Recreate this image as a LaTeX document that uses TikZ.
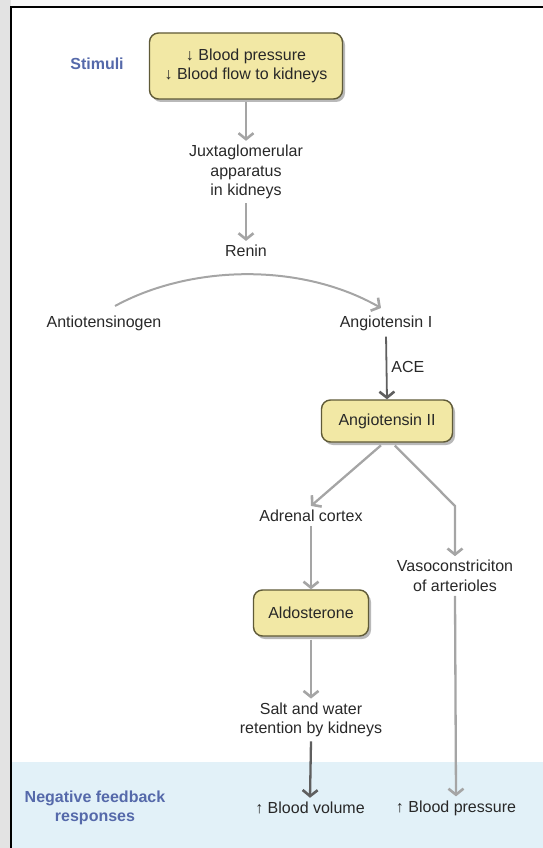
\documentclass[tikz,border=0pt]{standalone}
\usepackage{fontspec}
\setmainfont{Liberation Sans}
\usetikzlibrary{arrows.meta,shadows}
\definecolor{boxfill}{RGB}{242,232,165}
\definecolor{boxline}{RGB}{95,90,55}
\definecolor{textgray}{RGB}{40,40,40}
\definecolor{labelblue}{RGB}{85,105,170}
\definecolor{arrowgray}{RGB}{165,165,165}
\definecolor{darkarrow}{RGB}{95,95,95}
\definecolor{bandblue}{RGB}{226,241,248}
\tikzset{font={\fontsize{16pt}{19.5pt}\selectfont}}
\tikzset{
  stage/.style={text=textgray, align=center, inner sep=4pt},
  hormone/.style={draw=boxline, line width=1.4pt, fill=boxfill, rounded corners=9pt,
    text=textgray, align=center, drop shadow={shadow xshift=2.5pt, shadow yshift=-3pt, fill=black!55}},
  sidelabel/.style={text=labelblue, font={\fontsize{16pt}{19.5pt}\selectfont\bfseries}, align=center},
  flow/.style={draw=arrowgray, line width=2.3pt, -{Straight Barb[length=6pt,width=15pt,line width=2.6pt]}},
  darkflow/.style={flow, draw=darkarrow}
}
\begin{document}
\begin{tikzpicture}[x=1pt,y=-1pt]
      \useasboundingbox (0,0) rectangle (543,848);
      %background and frame
      \fill[gray!22] (0,0) rectangle (11,848);
      \fill[gray!6] (11,0) rectangle (543,7);
      \fill[bandblue] (12,762) rectangle (543,848);
      \draw[line width=2pt] (11,848) -- (11,7) -- (543,7);
      %side labels
      \node[sidelabel] (stimuli) at (97,64) {Stimuli};
      \node[sidelabel] (negfb) at (95,808) {Negative feedback\\responses};
      %boxes
      \node[hormone, minimum width=193pt, minimum height=66pt] (stimbox) at (246,66) {↓ Blood pressure\\↓ Blood flow to kidneys};
      \node[hormone, minimum width=131pt, minimum height=42pt] (angII) at (387,421) {Angiotensin II};
      \node[hormone, minimum width=115pt, minimum height=46pt] (aldo) at (311,613) {Aldosterone};
      %stages
      \node[stage] (jga) at (246,172) {Juxtaglomerular\\apparatus\\in kidneys};
      \node[stage] (renin) at (246,251) {Renin};
      \node[stage] (antio) at (104,323) {Antiotensinogen};
      \node[stage] (angI) at (386,323) {Angiotensin I};
      \node[stage] (adrenal) at (311,516) {Adrenal cortex};
      \node[stage] (vaso) at (455,576) {Vasoconstriciton\\of arterioles};
      \node[stage] (salt) at (311,720) {Salt and water\\retention by kidneys};
      \node[stage] (bvol) at (310,808) {↑ Blood volume};
      \node[stage] (bpres) at (456,808) {↑ Blood pressure};
      %arrows
      \draw[flow, shorten <=2pt] (stimbox.south) -- (jga.north);
      \draw[flow] (jga.south) -- (renin.north);
      \coordinate (arcstart) at (115,306);
      \coordinate (arcend) at (381,308);
      \draw[flow, line width=2pt] (arcstart) .. controls (190,265) and (300,262) .. (arcend);
      \draw[darkflow, line width=1.8pt, shorten <=2pt] (angI.south) -- (angII.north) node[midway, right=4pt, stage, inner sep=0pt] (ace) {ACE};
      \draw[flow, shorten <=4pt] ([xshift=-3pt]angII.south) -- (adrenal.north);
      \draw[flow, shorten <=4pt] ([xshift=5pt]angII.south) -- (vaso.north |- adrenal.north) -- (vaso.north);
      \draw[flow] (adrenal.south) -- (aldo.north);
      \draw[flow, shorten <=3pt] (aldo.south) -- (salt.north);
      \draw[darkflow] (salt.south) -- (bvol.north);
      \draw[flow] (vaso.south) -- (bpres.north);
    \end{tikzpicture}
\end{document}
